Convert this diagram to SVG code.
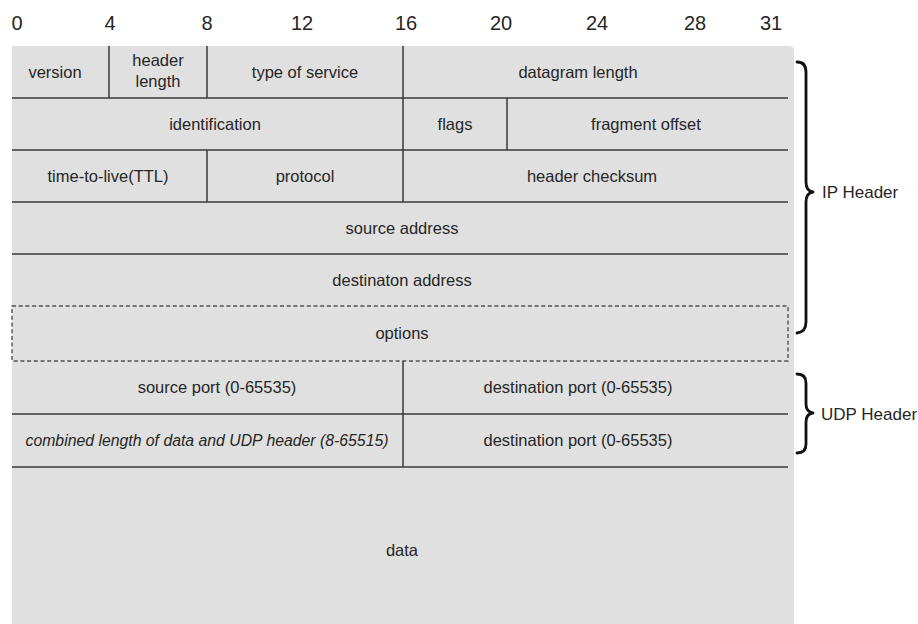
<svg xmlns="http://www.w3.org/2000/svg" width="918" height="624" viewBox="0 0 918 624">
<style>
.t{font-family:"Liberation Sans",Arial,sans-serif;font-size:16.5px;fill:#262626;text-anchor:middle}
.i{font-style:italic;font-size:15.8px}
.n{font-family:"Liberation Sans",Arial,sans-serif;font-size:20px;fill:#262626;text-anchor:middle}
.lbl{font-family:"Liberation Sans",Arial,sans-serif;font-size:17px;fill:#262626}
.ln{stroke:#3a3a3a;stroke-width:1.5;fill:none}
.dash{stroke:#505050;stroke-width:1.4;fill:none;stroke-dasharray:4 2.7}
.br{stroke:#111;stroke-width:2.8;fill:none;stroke-linejoin:round;stroke-linecap:round}
</style>
<rect width="918" height="624" fill="#fff"/>
<g id="bits">
<text class="n" x="17" y="30">0</text>
<text class="n" x="110" y="30">4</text>
<text class="n" x="207" y="30">8</text>
<text class="n" x="302" y="30">12</text>
<text class="n" x="406" y="30">16</text>
<text class="n" x="501" y="30">20</text>
<text class="n" x="597" y="30">24</text>
<text class="n" x="695" y="30">28</text>
<text class="n" x="771" y="30">31</text>
</g>
<path id="background" d="M12 46 H789 Q794 46 794 51 V624 H12 Z" fill="#e0e0e0"/>
<g id="connectors">
<line class="ln" x1="12" y1="98" x2="788" y2="98"/>
<line class="ln" x1="12" y1="150" x2="788" y2="150"/>
<line class="ln" x1="12" y1="202" x2="788" y2="202"/>
<line class="ln" x1="12" y1="254" x2="788" y2="254"/>
<line class="ln" x1="12" y1="414" x2="788" y2="414"/>
<line class="ln" x1="12" y1="467" x2="788" y2="467"/>
<line class="ln" x1="109" y1="46" x2="109" y2="98"/>
<line class="ln" x1="207" y1="46" x2="207" y2="98"/>
<line class="ln" x1="403" y1="46" x2="403" y2="202"/>
<line class="ln" x1="507" y1="98" x2="507" y2="150"/>
<line class="ln" x1="207" y1="150" x2="207" y2="202"/>
<line class="ln" x1="403" y1="361" x2="403" y2="467"/>
<path class="dash" d="M12 306 H788 V361 H12 Z"/>
</g>
<g id="version"><text class="t" x="55" y="78">version</text></g>
<g id="header-length"><text class="t" x="158" y="66">header</text><text class="t" x="158" y="87">length</text></g>
<g id="type-of-service"><text class="t" x="305" y="78">type of service</text></g>
<g id="datagram-length"><text class="t" x="578" y="78">datagram length</text></g>
<g id="identification"><text class="t" x="215" y="130">identification</text></g>
<g id="flags"><text class="t" x="455" y="130">flags</text></g>
<g id="fragment-offset"><text class="t" x="646" y="130">fragment offset</text></g>
<g id="ttl"><text class="t" x="108" y="182">time-to-live(TTL)</text></g>
<g id="protocol"><text class="t" x="305" y="182">protocol</text></g>
<g id="header-checksum"><text class="t" x="592" y="182">header checksum</text></g>
<g id="source-address"><text class="t" x="402" y="234">source address</text></g>
<g id="destination-address"><text class="t" x="402" y="286">destinaton address</text></g>
<g id="options"><text class="t" x="402" y="339">options</text></g>
<g id="source-port"><text class="t" x="217" y="393">source port (0-65535)</text></g>
<g id="destination-port-1"><text class="t" x="578" y="393">destination port (0-65535)</text></g>
<g id="udp-length"><text class="t i" x="207" y="446">combined length of data and UDP header (8-65515)</text></g>
<g id="destination-port-2"><text class="t" x="578" y="446">destination port (0-65535)</text></g>
<g id="data"><text class="t" x="402" y="556">data</text></g>
<g id="ip-header">
<path class="br" d="M797 62 Q806 62 806 72 V182 Q806 191 813 192 Q806 193 806 202 V322 Q806 332 797 333"/>
<text class="lbl" x="822" y="198">IP Header</text>
</g>
<g id="udp-header">
<path class="br" d="M797 374 Q806 374 806 383 V404 Q806 412 813 413 Q806 414 806 422 V444 Q806 453 797 453"/>
<text class="lbl" x="821" y="420">UDP Header</text>
</g>
</svg>
